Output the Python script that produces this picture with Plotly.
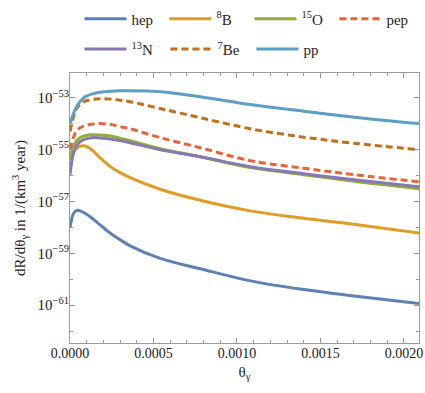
import plotly.graph_objects as go

# theta_gamma sample points
theta = [0.0, 0.00002, 0.00004, 0.00006, 0.00009, 0.00013, 0.00018, 0.00025, 0.00030,
         0.00036, 0.00054, 0.00078, 0.00108, 0.0014, 0.0017, 0.00209]

hep = [9.6e-59, 3.3e-58, 4.5e-58, 4.3e-58, 3.47e-58, 2.29e-58, 1.24e-58, 5.4e-59, 3.3e-59,
       1.94e-59, 6.35e-60, 2.54e-60, 8.6e-61, 4.0e-61, 2.27e-61, 1.16e-61]
b8 = [4.0e-56, 8.2e-56, 1.12e-55, 1.34e-55, 1.36e-55, 9.8e-56, 4.8e-56, 2.0e-56, 1.29e-56,
      8.2e-57, 2.93e-57, 1.10e-57, 4.3e-58, 2.22e-58, 1.31e-58, 6.1e-59]
o15 = [4.8e-56, 1.28e-55, 2.19e-55, 2.86e-55, 3.4e-55, 3.7e-55, 3.63e-55, 3.27e-55, 2.7e-55,
       2.19e-55, 1.07e-55, 5.3e-56, 2.0e-56, 1.07e-56, 6.0e-57, 3.1e-57]
pep = [9.8e-56, 2.86e-55, 5.3e-55, 6.9e-55, 8.3e-55, 9.5e-55, 1.0e-54, 9.1e-55, 7.6e-55,
       6.3e-55, 2.86e-55, 1.17e-55, 3.7e-56, 1.9e-56, 1.07e-56, 5.7e-57]
n13 = [1.07e-56, 6.9e-56, 1.40e-55, 2.0e-55, 2.5e-55, 2.86e-55, 2.78e-55, 2.5e-55, 2.2e-55,
       1.83e-55, 9.8e-56, 5.3e-56, 2.17e-56, 1.16e-56, 6.8e-57, 3.66e-57]
be7 = [4.9e-55, 1.69e-54, 3.8e-54, 5.4e-54, 7.3e-54, 8.4e-54, 9.1e-54, 8.75e-54, 8.0e-54,
       7.0e-54, 3.8e-54, 1.69e-54, 6.3e-55, 3.0e-55, 1.75e-55, 9.8e-56]
pp = [1.0e-54, 2.4e-54, 4.5e-54, 7.0e-54, 1.09e-53, 1.36e-53, 1.62e-53, 1.78e-53, 1.83e-53,
      1.86e-53, 1.70e-53, 1.09e-53, 5.4e-54, 3.0e-54, 1.77e-54, 1.0e-54]

series_names = ["hep", "<sup>8</sup>B", "<sup>15</sup>O", "pep",
                "<sup>13</sup>N", "<sup>7</sup>Be", "pp"]

x_tickvals = [0.0, 0.0005, 0.0010, 0.0015, 0.0020]
x_ticktext = ["0.0000", "0.0005", "0.0010", "0.0015", "0.0020"]
y_tickvals = [1e-53, 1e-55, 1e-57, 1e-59, 1e-61]
y_ticktext = ["10<sup>\u221253</sup>", "10<sup>\u221255</sup>", "10<sup>\u221257</sup>",
              "10<sup>\u221259</sup>", "10<sup>\u221261</sup>"]
y_minor = [1e-52, 1e-54, 1e-56, 1e-58, 1e-60, 1e-62]

colors = ["#5E81B5", "#E19C24", "#8FB032", "#EB6235", "#8778B3", "#C56E1A", "#5D9EC7"]
dashes = ["solid", "solid", "solid", "7px,4px", "solid", "7px,4px", "solid"]
legends = ["legend", "legend", "legend", "legend", "legend2", "legend2", "legend2"]
data = [hep, b8, o15, pep, n13, be7, pp]

FAM = "'Liberation Serif', 'Times New Roman', Times, serif"

fig = go.Figure()
for name, ys, c, d, lg in zip(series_names, data, colors, dashes, legends):
    fig.add_trace(go.Scatter(x=theta, y=ys, mode="lines", name=name,
                             line=dict(color=c, width=3, dash=d, shape="spline", smoothing=1.0),
                             legend=lg))

axcol = "#999"
legfont = dict(family=FAM, size=15, color="#222")
fig.update_layout(
    width=425, height=393,
    margin=dict(l=69.5, r=6, t=73, b=50, autoexpand=False),
    paper_bgcolor="white", plot_bgcolor="white",
    font=dict(family=FAM, size=14, color="#222"),
    legend=dict(orientation="h", x=0.027, y=1.20, xanchor="left", yanchor="middle",
                entrywidth=28, entrywidthmode="pixels", itemwidth=42,
                font=legfont, bgcolor="rgba(0,0,0,0)"),
    legend2=dict(orientation="h", x=0.027, y=1.088, xanchor="left", yanchor="middle",
                 entrywidth=29, entrywidthmode="pixels", itemwidth=42,
                 font=legfont, bgcolor="rgba(0,0,0,0)"),
    xaxis=dict(range=[0, 0.00209], tickvals=x_tickvals, ticktext=x_ticktext,
               showgrid=False, zeroline=False, showline=True, linecolor=axcol, linewidth=1,
               mirror="ticks", ticks="inside", ticklen=5, tickcolor=axcol,
               minor=dict(dtick=0.0001, ticks="inside", ticklen=3, tickcolor=axcol, showgrid=False),
               title=dict(text="\u03b8<sub>\u03b3</sub>", font=dict(family=FAM, size=15), standoff=6),
               tickfont=dict(family=FAM, size=14), ticklabelstandoff=-3),
    yaxis=dict(type="log", range=[-62.46, -52.05], tickvals=y_tickvals, ticktext=y_ticktext,
               showgrid=False, zeroline=False, showline=True, linecolor=axcol, linewidth=1,
               mirror="ticks", ticks="inside", ticklen=5, tickcolor=axcol,
               minor=dict(tickvals=y_minor, ticks="inside", ticklen=3, tickcolor=axcol, showgrid=False),
               title=dict(text="dR/d\u03b8<sub>\u03b3</sub> in 1/(km<sup>3</sup> year)",
                          font=dict(family=FAM, size=15), standoff=8),
               tickfont=dict(family=FAM, size=15), ticklabelstandoff=-3),
)

fig.write_html("out.html", config={"displayModeBar": False},
               post_script="document.body.style.margin='0';")
